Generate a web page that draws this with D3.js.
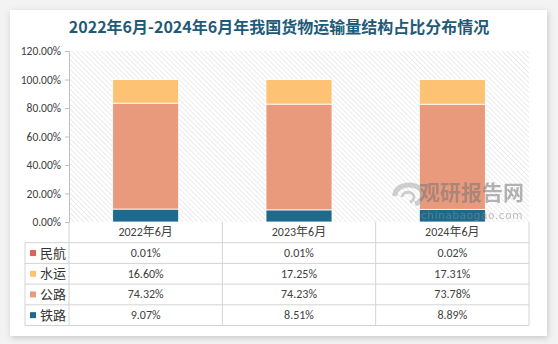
<!DOCTYPE html>
<html><head><meta charset="utf-8">
<script src="https://cdn.jsdelivr.net/npm/d3@7/dist/d3.min.js"></script>
<style>
html,body{margin:0;padding:0;background:#f3f3f3;}
svg{display:block;}
</style></head>
<body>
<svg id="c" width="558" height="344"></svg>
<script>
const categories = ['2022年6月','2023年6月','2024年6月'];
const seriesNames = ['铁路','公路','水运','民航'];
const railway = [9.07, 8.51, 8.89];
const highway = [74.32, 74.23, 73.78];
const waterway = [16.60, 17.25, 17.31];
const aviation = [0.01, 0.01, 0.02];
const yTicks = [0,20,40,60,80,100,120];
const colors = {'铁路':'#1e6a8d','公路':'#ea9a7c','水运':'#fec274','民航':'#d8655b'};
const title = '2022年6月-2024年6月年我国货物运输量结构占比分布情况';

const valuesBy = {'铁路':railway,'公路':highway,'水运':waterway,'民航':aviation};
const rows = categories.map((c,i)=>{const o={cat:c}; seriesNames.forEach(s=>o[s]=valuesBy[s][i]); return o;});

const svg = d3.select('#c');
const font = "'Calibri','Carlito','Noto Sans CJK SC','Liberation Sans',sans-serif";

const defs = svg.append('defs');
const f = defs.append('filter').attr('id','sh').attr('x','-5%').attr('y','-5%').attr('width','110%').attr('height','115%');
f.append('feDropShadow').attr('dx',1).attr('dy',2).attr('stdDeviation',3).attr('flood-color','#000').attr('flood-opacity',0.18);
svg.append('rect').attr('x',10).attr('y',10).attr('width',537).attr('height',326).attr('fill','#fff').attr('filter','url(#sh)');

const pat = defs.append('pattern').attr('id','hatch').attr('patternUnits','userSpaceOnUse')
  .attr('width',3.5).attr('height',3.5).attr('patternTransform','rotate(-45)');
pat.append('rect').attr('width',3.5).attr('height',3.5).attr('fill','#fff');
pat.append('line').attr('x1',0).attr('y1',0).attr('x2',0).attr('y2',3.5).attr('stroke','#d9d9d9').attr('stroke-width',1);

const pLeft = 69, pRight = 529, pTop = 51, pBottom = 222;
const x = d3.scaleBand().domain(categories).range([pLeft,pRight]).paddingInner(0).paddingOuter(0);
const y = d3.scaleLinear().domain([0,120]).range([pBottom, pTop]);

svg.append('rect').attr('x',pLeft).attr('y',pTop).attr('width',pRight-pLeft).attr('height',pBottom-pTop).attr('fill','url(#hatch)');

svg.append('text').attr('x',279).attr('y',33).attr('text-anchor','middle')
  .attr('font-family',"'Noto Sans CJK SC',sans-serif").attr('font-weight','bold').attr('font-size',16)
  .attr('fill','#1f5a78').text(title);

const yAxis = d3.axisLeft(y).tickValues(yTicks).tickSize(4).tickPadding(4).tickFormat(d=>d3.format('.2f')(d)+'%');
const ga = svg.append('g').attr('transform',`translate(${pLeft},0)`).call(yAxis);
ga.select('.domain').attr('stroke','#bfbfbf');
ga.selectAll('.tick line').attr('stroke','#bfbfbf');
ga.selectAll('.tick text').attr('font-family',font).attr('font-size',11.5).attr('fill','#404040');

const stack = d3.stack().keys(seriesNames)(rows);
const bw = 66;
svg.append('g').selectAll('g').data(stack).join('g').attr('fill',d=>colors[d.key])
  .selectAll('rect').data(d=>d).join('rect')
  .attr('x',d=>x(d.data.cat)+x.bandwidth()/2-bw/2).attr('width',bw)
  .attr('y',d=>y(d[1])).attr('height',d=>Math.max(0,y(d[0])-y(d[1])))
  .attr('stroke','#fff').attr('stroke-width',0.8);

const wm = svg.append('g').attr('opacity',0.55);
wm.append('path').attr('d','M 395 196 A 14 10 0 1 1 415 204').attr('fill','none').attr('stroke','#aaa').attr('stroke-width',5);
wm.append('path').attr('d','M 402 197 A 6 5 0 1 1 410 202').attr('fill','none').attr('stroke','#aaa').attr('stroke-width',3);
wm.append('text').attr('x',419).attr('y',200).attr('font-family',"'Noto Sans CJK SC',sans-serif").attr('font-weight','bold')
  .attr('font-size',21).attr('fill','#777').text('观研报告网');
wm.append('text').attr('x',421).attr('y',219).attr('font-family',"'DejaVu Sans',sans-serif")
  .attr('font-size',10.5).attr('fill','#8a8a8a').attr('letter-spacing',0.6).text('chinabaogao.com');

const rowH = 20.7;
const tl = 25;
const tableRows = ['民航','水运','公路','铁路'];
const tg = svg.append('g');
const lc = '#d4d4d4';
for (let i=1;i<=5;i++){
  const yy = pBottom + i*rowH;
  tg.append('line').attr('x1',tl).attr('x2',pRight).attr('y1',yy).attr('y2',yy).attr('stroke',lc);
}
[pLeft, ...categories.map(c=>x(c)+x.bandwidth())].forEach(xx=>{
  tg.append('line').attr('x1',xx).attr('x2',xx).attr('y1',pBottom).attr('y2',pBottom+5*rowH).attr('stroke',lc);
});
tg.append('line').attr('x1',tl).attr('x2',tl).attr('y1',pBottom+rowH).attr('y2',pBottom+5*rowH).attr('stroke',lc);
categories.forEach(c=>{
  tg.append('text').attr('x',x(c)+x.bandwidth()/2).attr('y',pBottom+rowH/2+4).attr('text-anchor','middle')
   .attr('font-family',font).attr('font-size',12).attr('fill','#404040').text(c);
});
tableRows.forEach((s,ri)=>{
  const yc = pBottom + (ri+1)*rowH + rowH/2;
  tg.append('rect').attr('x',30).attr('y',yc-3).attr('width',6).attr('height',6).attr('fill',colors[s]);
  tg.append('text').attr('x',40).attr('y',yc+4.5).attr('font-family',"'Noto Sans CJK SC',sans-serif").attr('font-size',13)
    .attr('fill','#333').text(s);
  categories.forEach((c,ci)=>{
    tg.append('text').attr('x',x(c)+x.bandwidth()/2).attr('y',yc+4).attr('text-anchor','middle')
      .attr('font-family',font).attr('font-size',12).attr('fill','#404040').text(d3.format('.2f')(valuesBy[s][ci])+'%');
  });
});
</script>
</body></html>
